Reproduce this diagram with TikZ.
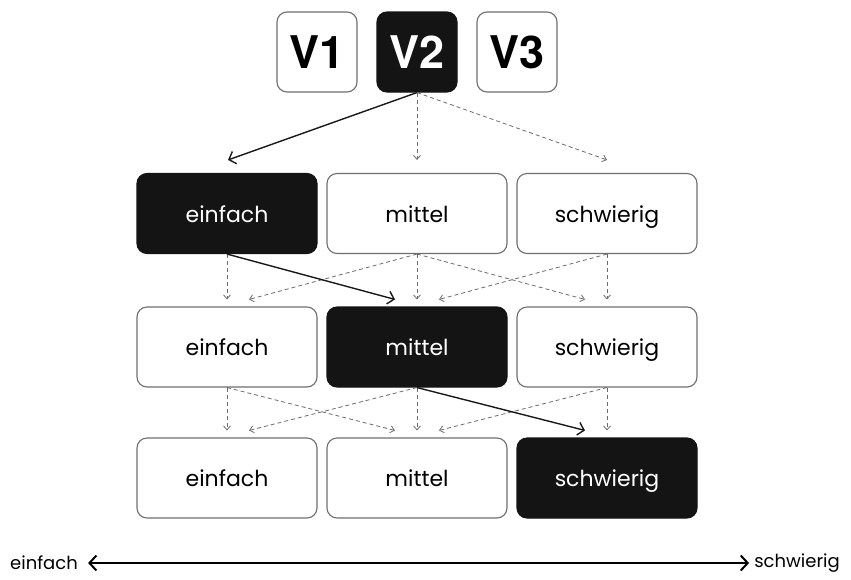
\documentclass[tikz,border=0pt]{standalone}
\usepackage{fontspec}
\setmainfont{Poppins}
\newfontfamily\heavyfont{TeX Gyre Heros}
\usetikzlibrary{arrows.meta}

\definecolor{rimgray}{HTML}{6E6E6E}
\definecolor{pickblack}{HTML}{141414}

\begin{document}
\begin{tikzpicture}[x=1pt,y=-1pt,
  box/.style={draw=rimgray,line width=1.1pt,rounded corners=10pt,
    minimum width=180pt,minimum height=80pt,inner sep=0pt,
    text height=17pt,text depth=0pt,
    font=\fontsize{22}{22}\selectfont},
  vbox/.style={box,minimum width=80pt,text height=32pt,text depth=0pt,
    font=\heavyfont\bfseries\fontsize{45}{45}\selectfont},
  picked/.style={fill=pickblack,draw=pickblack,text=white},
  maybe/.style={draw=black!58,line width=0.8pt,dash pattern=on 4pt off 3pt,
    -{Straight Barb[length=4pt,width=7pt]}},
  taken/.style={draw=black!90,line width=1.4pt,
    -{Straight Barb[length=6pt,width=13pt]}}]
\useasboundingbox (0,0) rectangle (851,579);

% versions
\node[vbox] (v1) at (317,52) {V1};
\node[vbox,picked] (v2) at (417,52) {V2};
\node[vbox] (v3) at (517,52) {V3};

% levels
\node[box,picked] (e1) at (227,213.5) {einfach};
\node[box] (m1) at (417,213.5) {mittel};
\node[box] (s1) at (607,213.5) {schwierig};
\node[box] (e2) at (227,347) {einfach};
\node[box,picked] (m2) at (417,347) {mittel};
\node[box] (s2) at (607,347) {schwierig};
\node[box] (e3) at (227,478) {einfach};
\node[box] (m3) at (417,478) {mittel};
\node[box,picked] (s3) at (607,478) {schwierig};

\draw[taken] (v2.south) -- ([xshift=1pt,yshift=13pt]e1.north);
\draw[maybe] (v2.south) -- ([yshift=13pt]m1.north);
\draw[maybe] (v2.south) -- ([yshift=13pt]s1.north);

\foreach \a/\b in {1/2,2/3} {
  \draw[maybe] (e\a.south) -- ([yshift=7pt]e\b.north);
  \draw[maybe] (m\a.south) -- ([yshift=7pt]m\b.north);
  \draw[maybe] (s\a.south) -- ([yshift=7pt]s\b.north);
  \draw[maybe] (m\a.south) -- ([xshift=22pt,yshift=7pt]e\b.north);
  \draw[maybe] (s\a.south) -- ([xshift=22pt,yshift=7pt]m\b.north);
}
\draw[maybe] (m1.south) -- ([xshift=-22pt,yshift=7pt]s2.north);
\draw[maybe] (e2.south) -- ([xshift=-22pt,yshift=7pt]m3.north);
\draw[taken] (e1.south) -- ([xshift=-22pt,yshift=7pt]m2.north);
\draw[taken] (m2.south) -- ([xshift=-22pt,yshift=7pt]s3.north);

% scale
\node[anchor=west,inner sep=0pt,font=\fontsize{18}{18}\selectfont] (lo) at (10,563) {einfach};
\node[anchor=east,inner sep=0pt,font=\fontsize{18}{18}\selectfont] (hi) at (840,563) {schwierig};
\draw[line width=2pt,{Straight Barb[length=7pt,width=15pt]}-{Straight Barb[length=7pt,width=15pt]},
  shorten <=10pt,shorten >=5pt] (lo.east) -- (hi.west);
\end{tikzpicture}
\end{document}
